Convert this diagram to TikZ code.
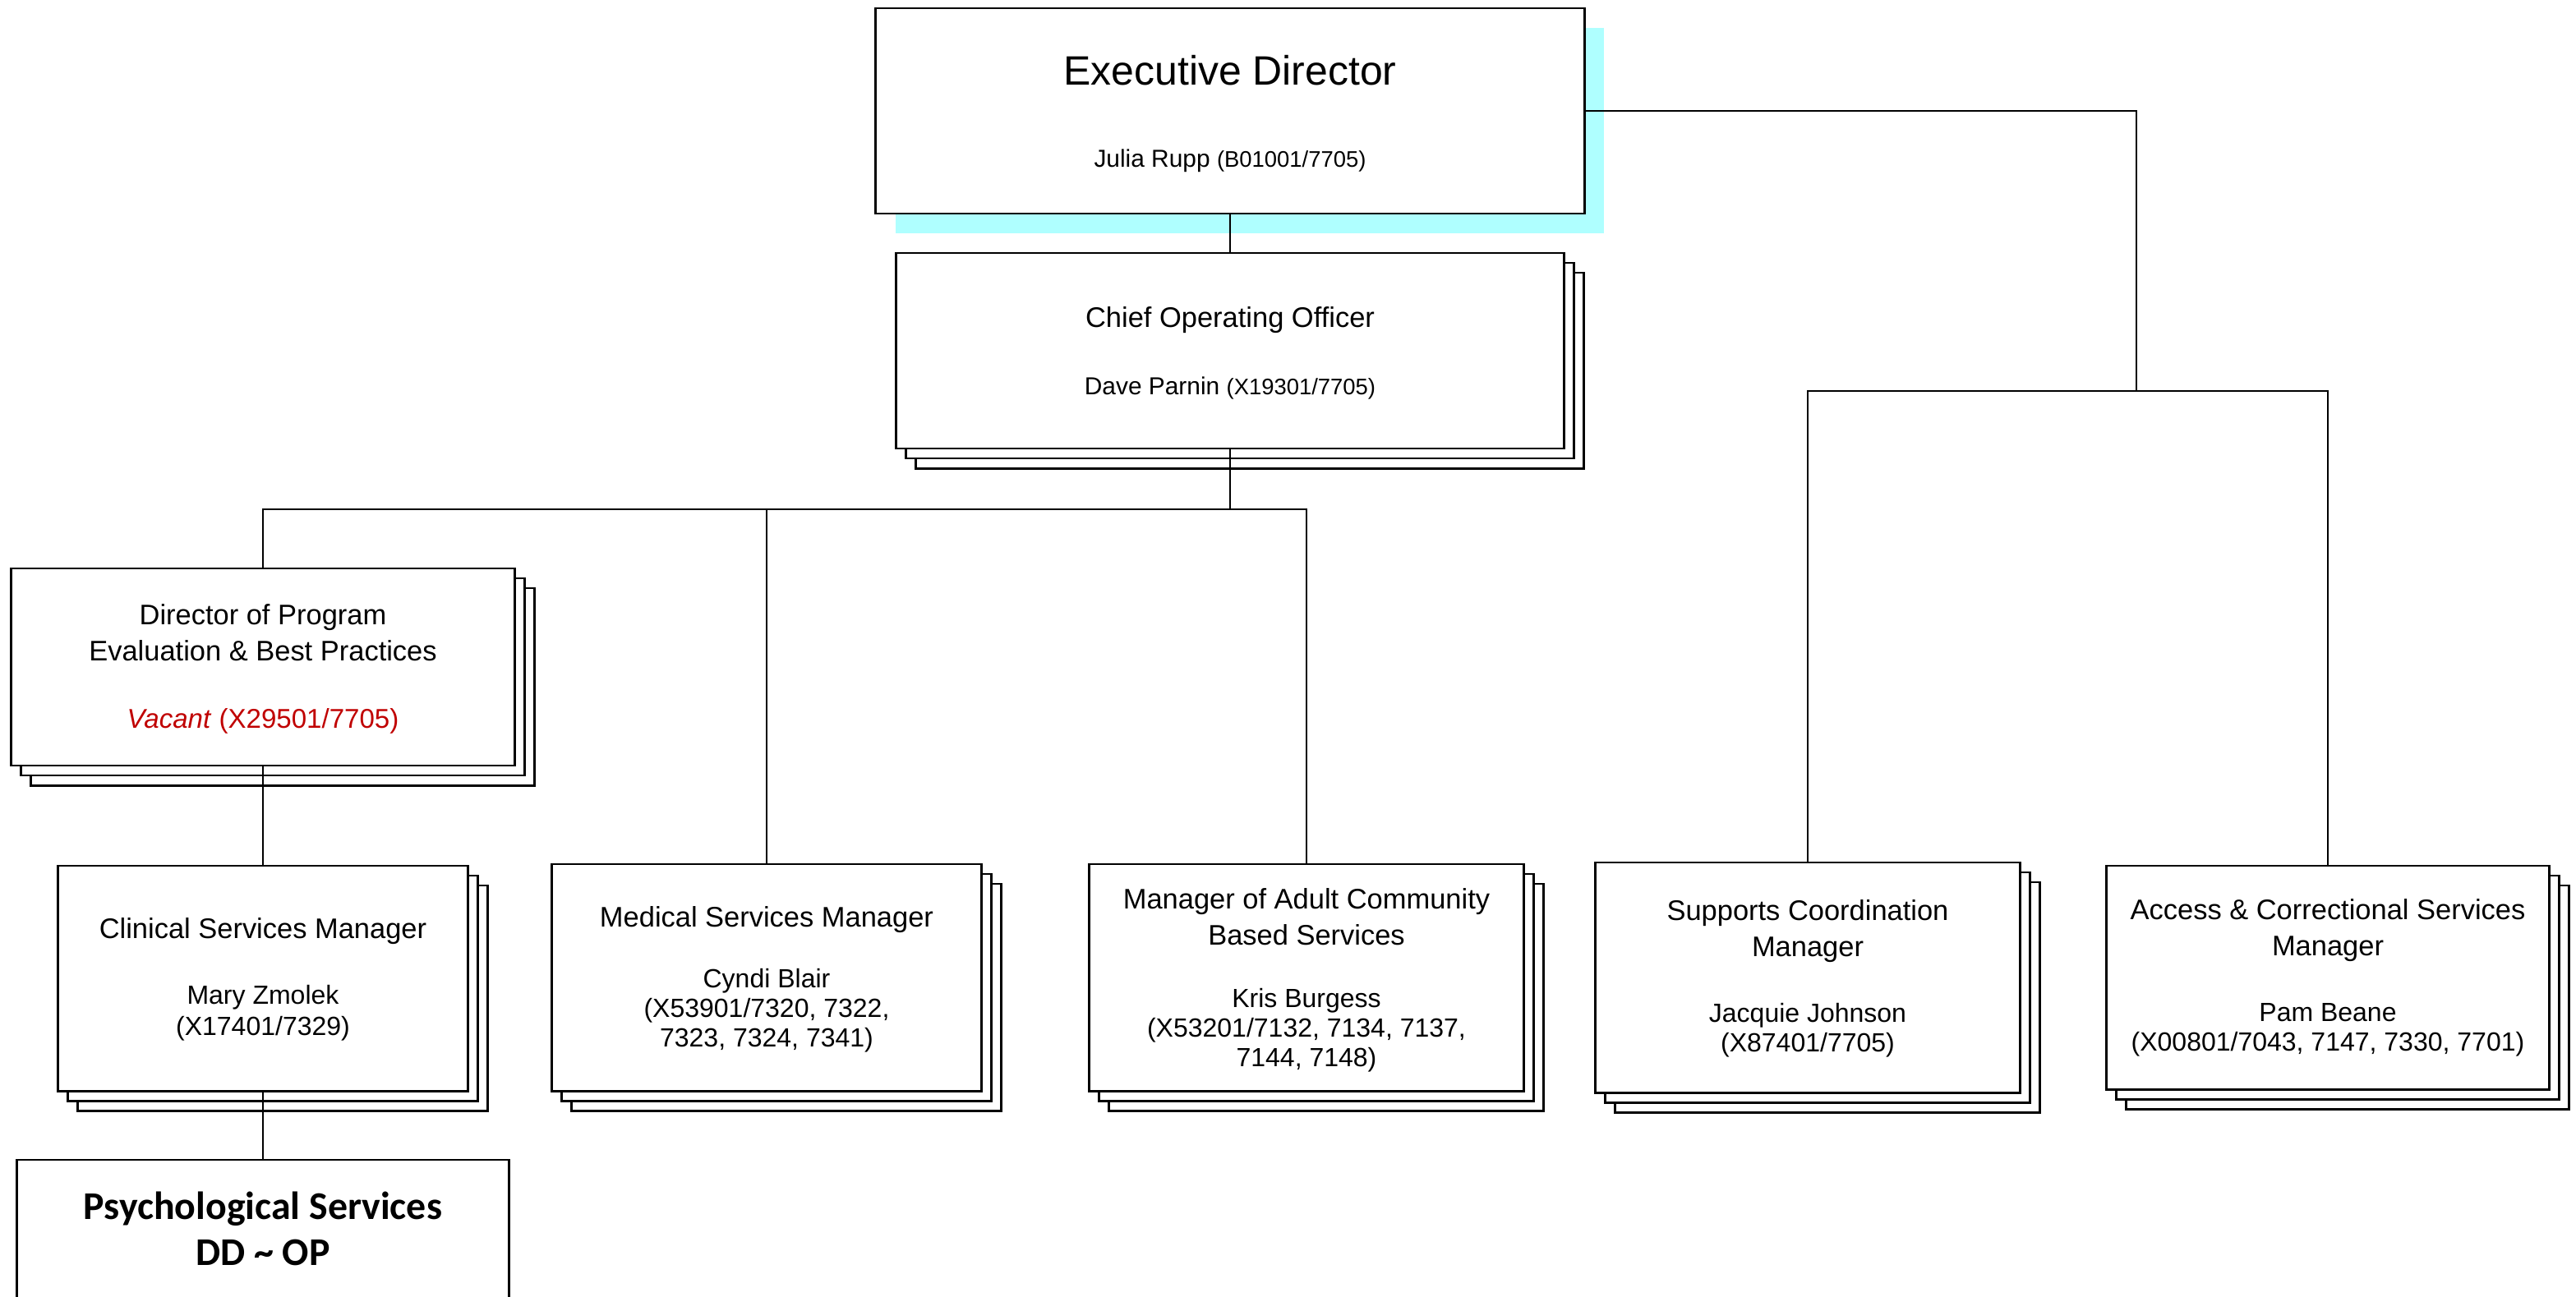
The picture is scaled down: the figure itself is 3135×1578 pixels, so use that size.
\documentclass[tikz,border=0pt]{standalone}
\usepackage{fontspec}
\setmainfont{Liberation Sans}
\newfontfamily\psyfont{Carlito}
\usetikzlibrary{shadows}
\definecolor{edcyan}{RGB}{175,255,255}
\definecolor{vacred}{RGB}{192,0,0}

\begin{document}
\begin{tikzpicture}[x=0.01cm,y=-0.01cm,
  box/.style={draw,fill=white,line width=0.8pt,inner sep=0pt},
  stack/.style={box,
    general shadow={shadow xshift=2.4mm,shadow yshift=-2.4mm,draw=black,fill=white,line width=0.8pt},
    general shadow={shadow xshift=1.2mm,shadow yshift=-1.2mm,draw=black,fill=white,line width=0.8pt}},
  ttl/.style={inner sep=0pt,align=center,font=\fontsize{9.8}{12.5}\selectfont},
  who/.style={inner sep=0pt,align=center,font=\fontsize{9.1}{10.3}\selectfont},
  link/.style={line width=0.6pt}]

\useasboundingbox (0,0) rectangle (3135,1578);

\node[box,minimum width=8.62cm,minimum height=2.5cm,
  general shadow={shadow xshift=2.4mm,shadow yshift=-2.4mm,draw=none,fill=edcyan}](ed) at (1497,135) {};
\node[stack,minimum width=8.12cm,minimum height=2.38cm](coo) at (1497,427) {};
\node[stack,minimum width=6.12cm,minimum height=2.4cm](dir) at (320,812) {};
\node[stack,minimum width=4.98cm,minimum height=2.74cm](cli) at (320,1191) {};
\node[box,minimum width=5.98cm,minimum height=2.4cm](psy) at (320,1532) {};
\node[stack,minimum width=5.22cm,minimum height=2.76cm](med) at (933,1190) {};
\node[stack,minimum width=5.28cm,minimum height=2.76cm](acb) at (1590,1190) {};
\node[stack,minimum width=5.16cm,minimum height=2.8cm](sup) at (2200,1190) {};
\node[stack,minimum width=5.38cm,minimum height=2.72cm](acc) at (2833,1190) {};

\node[ttl,font=\fontsize{14.2}{17}\selectfont](ed-t) at (1497,86) {Executive Director};
\node[who](ed-n) at (1497,196) {\fontsize{8.5}{10}\selectfont Julia Rupp \fontsize{7.8}{10}\selectfont(B01001/7705)};
\node[ttl](coo-t) at (1497,390) {Chief Operating Officer};
\node[who](coo-n) at (1497,472) {\fontsize{8.5}{10}\selectfont Dave Parnin \fontsize{7.8}{10}\selectfont(X19301/7705)};
\node[ttl](dir-t) at (320,770) {Director of Program\\Evaluation \& Best Practices};
\node[who,text=vacred,font=\fontsize{9.4}{11}\selectfont](dir-n) at (320,878) {\textit{Vacant} (X29501/7705)};
\node[ttl](cli-t) at (320,1134) {Clinical Services Manager};
\node[who,font=\fontsize{9.1}{10.8}\selectfont](cli-n) at (320,1233) {Mary Zmolek\\(X17401/7329)};
\node[ttl,font=\psyfont\bfseries\fontsize{13.6}{15.9}\selectfont](psy-t) at (320,1496) {Psychological Services\\DD \textasciitilde{} OP};
\node[ttl](med-t) at (933,1120) {Medical Services Manager};
\node[who](med-n) at (933,1230) {Cyndi Blair\\(X53901/7320, 7322,\\7323, 7324, 7341)};
\node[ttl](acb-t) at (1590,1116) {Manager of Adult Community\\Based Services};
\node[who](acb-n) at (1590,1254) {Kris Burgess\\(X53201/7132, 7134, 7137,\\7144, 7148)};
\node[ttl](sup-t) at (2200,1134) {Supports Coordination\\Manager};
\node[who](sup-n) at (2200,1254) {Jacquie Johnson\\(X87401/7705)};
\node[ttl](acc-t) at (2833,1133) {Access \& Correctional Services\\Manager};
\node[who](acc-n) at (2833,1254) {Pam Beane\\(X00801/7043, 7147, 7330, 7701)};

\coordinate (j1) at (2600,476);
\coordinate (j2) at (1497,620);

\draw[link] (ed.south) -- (coo.north);
\draw[link] (ed.east) -| (j1);
\draw[link] (sup.north) |- (j1) -| (acc.north);
\draw[link] (coo.south) -- (j2);
\foreach \n in {dir,med,acb}
	\draw[link] (\n.north) |- (j2);
\draw[link] (dir.south) -- (cli.north);
\draw[link] (cli.south) -- (psy.north);

\end{tikzpicture}
\end{document}
